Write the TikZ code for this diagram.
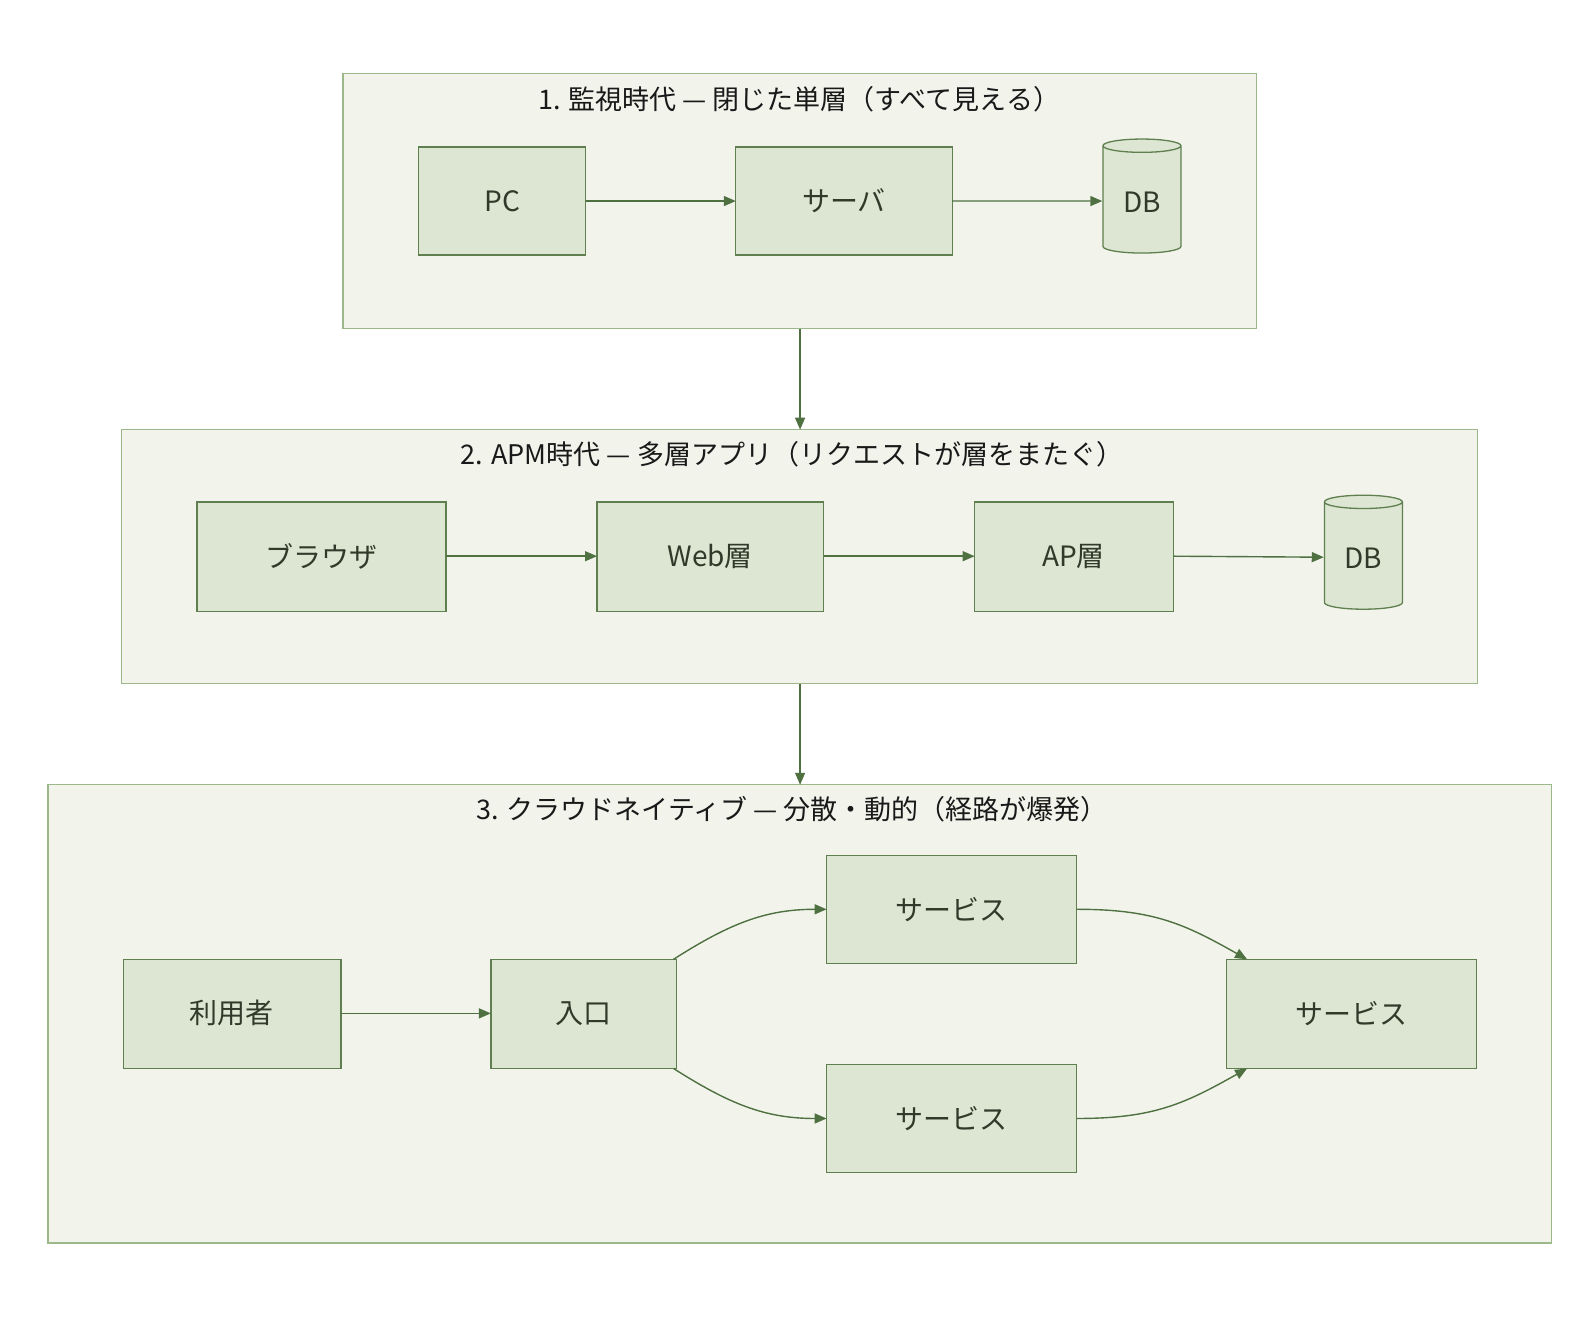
\documentclass[tikz,border=0pt]{standalone}
\usepackage{fontspec}
\setmainfont{Noto Sans CJK JP}
\usetikzlibrary{shapes.geometric,arrows.meta}
\definecolor{cfill}{HTML}{F2F4EC}
\definecolor{cdraw}{HTML}{9CB88A}
\definecolor{bfill}{HTML}{DCE6D2}
\definecolor{bdraw}{HTML}{5F7F4F}
\definecolor{arr}{HTML}{4F7040}
\definecolor{txt}{HTML}{2F3A2A}
\begin{document}
\begin{tikzpicture}[x=1.0205pt,y=-1.0205pt,
  cont/.style={draw=cdraw,fill=cfill,line width=1.3pt},
  box/.style={draw=bdraw,fill=bfill,line width=1.3pt},
  lbl/.style={text=txt,font=\fontsize{28}{32}\selectfont},
  ttl/.style={text=black!90,font=\fontsize{27}{31}\selectfont},
  db/.style={cylinder,shape border rotate=90,aspect=0.3,draw=bdraw,fill=bfill,line width=1.3pt,minimum width=78pt,minimum height=114pt,text=txt,font=\fontsize{28}{32}\selectfont},
  a/.style={draw=arr,line width=1.4pt,-{Triangle[length=12pt,width=10pt]}}]
\useasboundingbox (0,0) rectangle (1560,1290);
% containers
\draw[cont] (336,72) rectangle (1231,322);
\coordinate (c1b) at (784,322);
\node[ttl] at (783,97) {1. 監視時代 — 閉じた単層（すべて見える）};
\draw[cont] (119,421) rectangle (1448,670);
\coordinate (c2t) at (784,421); \coordinate (c2b) at (784,670);
\node[ttl] at (776,445) {2. APM時代 — 多層アプリ（リクエストが層をまたぐ）};
\draw[cont] (47,769) rectangle (1520,1218);
\coordinate (c3t) at (784,769);
\node[ttl] at (776,793) {3. クラウドネイティブ — 分散・動的（経路が爆発）};
\draw[a] (c1b)--(c2t);
\draw[a] (c2b)--(c3t);
% row 1
\draw[box] (410,144) rectangle (574,250); \node[lbl] (pc) at (492,197) {PC};
\coordinate (pcE) at (574,197);
\draw[box] (721,144) rectangle (933,250); \node[lbl] (srv) at (827,197) {サーバ};
\coordinate (srvW) at (721,197); \coordinate (srvE) at (933,197);
\node[db] (db1) at (1119,197) {\raisebox{-22pt}{DB}};
\draw[a] (pcE)--(srvW);
\draw[a] (srvE)--(db1.west);
% row 2
\draw[box] (193,492) rectangle (437,599); \node[lbl] (br) at (315,545) {ブラウザ};
\draw[box] (585,492) rectangle (807,599); \node[lbl] (web) at (696,545) {Web層};
\draw[box] (955,492) rectangle (1150,599); \node[lbl] (ap) at (1052,545) {AP層};
\node[db] (db2) at (1336,546) {\raisebox{-22pt}{DB}};
\coordinate (brE) at (437,545); \coordinate (webW) at (585,545); \coordinate (webE) at (807,545);
\coordinate (apW) at (955,545); \coordinate (apE) at (1150,545);
\draw[a] (brE)--(webW); \draw[a] (webE)--(apW); \draw[a] (apE)--(db2.west);
% row 3
\draw[box] (121,940) rectangle (334,1047); \node[lbl] (usr) at (227,993) {利用者};
\draw[box] (481,940) rectangle (663,1047); \node[lbl] (ent) at (572,993) {入口};
\draw[box] (810,838) rectangle (1055,944); \node[lbl] (s1) at (932,891) {サービス};
\draw[box] (810,1043) rectangle (1055,1149); \node[lbl] (s2) at (932,1096) {サービス};
\draw[box] (1202,940) rectangle (1447,1047); \node[lbl] (s3) at (1324,993) {サービス};
\coordinate (usrE) at (334,993); \coordinate (entW) at (481,993);
\coordinate (entNE) at (660,940); \coordinate (entSE) at (660,1047);
\coordinate (s1W) at (810,891); \coordinate (s1E) at (1055,891);
\coordinate (s2W) at (810,1096); \coordinate (s2E) at (1055,1096);
\coordinate (s3NW) at (1222,940); \coordinate (s3SW) at (1222,1047);
\draw[a] (usrE)--(entW);
\draw[a] (entNE) .. controls (715,905) and (750,891) .. (s1W);
\draw[a] (entSE) .. controls (715,1082) and (750,1096) .. (s2W);
\draw[a] (s1E) .. controls (1130,891) and (1160,905) .. (s3NW);
\draw[a] (s2E) .. controls (1130,1096) and (1160,1082) .. (s3SW);
\end{tikzpicture}
\end{document}
